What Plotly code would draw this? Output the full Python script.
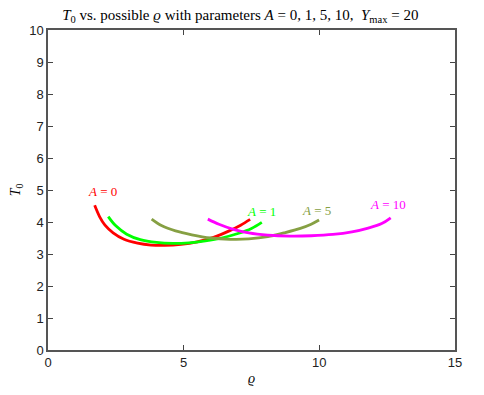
import plotly.graph_objects as go

# A = 0
rho_a0 = [1.72, 1.9, 2.1, 2.4, 2.8, 3.3, 3.8, 4.3, 4.9, 5.5, 6.1, 6.7, 7.1, 7.45]
t0_a0 = [4.52, 4.17, 3.9, 3.66, 3.46, 3.34, 3.28, 3.27, 3.3, 3.38, 3.52, 3.73, 3.9, 4.08]
# A = 1
rho_a1 = [2.22, 2.5, 2.9, 3.4, 4.0, 4.6, 5.2, 5.8, 6.4, 7.0, 7.5, 7.88]
t0_a1 = [4.17, 3.88, 3.62, 3.45, 3.36, 3.33, 3.35, 3.41, 3.5, 3.64, 3.8, 3.99]
# A = 5
rho_a5 = [3.82, 4.2, 4.7, 5.3, 6.0, 6.7, 7.4, 8.1, 8.7, 9.3, 9.7, 9.99]
t0_a5 = [4.09, 3.88, 3.72, 3.6, 3.5, 3.46, 3.47, 3.54, 3.66, 3.8, 3.93, 4.06]
# A = 10
rho_a10 = [5.89, 6.3, 6.8, 7.4, 8.1, 8.9, 9.7, 10.5, 11.2, 11.8, 12.3, 12.63]
t0_a10 = [4.09, 3.93, 3.78, 3.66, 3.59, 3.56, 3.57, 3.61, 3.69, 3.81, 3.95, 4.13]

series_names = ["A = 0", "A = 1", "A = 5", "A = 10"]
label_text = ["<i>A</i> = 0", "<i>A</i> = 1", "<i>A</i> = 5", "<i>A</i> = 10"]
label_x = [1.99, 7.85, 9.88, 12.53]
label_y = [4.95, 4.32, 4.35, 4.56]
colors = ["#ff0000", "#00ff00", "#86a043", "#ff00ff"]

xs = [rho_a0, rho_a1, rho_a5, rho_a10]
ys = [t0_a0, t0_a1, t0_a5, t0_a10]

serif = "Liberation Serif, DejaVu Serif, serif"
sans = "Liberation Sans, Arial, sans-serif"

fig = go.Figure()
for name, x, y, c in zip(series_names, xs, ys, colors):
    fig.add_trace(go.Scatter(x=x, y=y, mode="lines", name=name,
                             line=dict(color=c, width=2.8, shape="spline"),
                             showlegend=False))

for t, x, y, c in zip(label_text, label_x, label_y, colors):
    fig.add_annotation(x=x, y=y, text=t, showarrow=False,
                       font=dict(family=serif, size=13, color=c))

fig.update_layout(
    width=476, height=387,
    margin=dict(l=40, r=29, t=22, b=45, autoexpand=False),
    plot_bgcolor="white", paper_bgcolor="white",
    title=dict(text="<i>T</i><sub>0</sub> vs. possible <i>ϱ</i> with parameters <i>A</i> = 0, 1, 5, 10,  <i>Y</i><sub>max</sub> = 20",
               x=0.488, xanchor="center", y=0.982, yanchor="middle",
               font=dict(family=serif, size=15, color="black")),
    xaxis=dict(range=[0, 15], tickvals=[0, 5, 10, 15], ticks="inside", ticklen=5,
               showline=True, linecolor="#555555", linewidth=1.5, mirror="ticks",
               showgrid=False, zeroline=False, automargin=False,
               tickfont=dict(family=sans, size=13, color="#222222"),
               title=dict(text="<i>ϱ</i>", font=dict(family=serif, size=14, color="black"), standoff=4)),
    yaxis=dict(range=[0, 10], tickvals=list(range(0, 11)), ticks="inside", ticklen=5,
               showline=True, linecolor="#555555", linewidth=1.5, mirror="ticks",
               showgrid=False, zeroline=False, automargin=False,
               tickfont=dict(family=sans, size=13, color="#222222"),
               title=dict(text="<i>T</i><sub>0</sub>", font=dict(family=serif, size=14, color="black"), standoff=6)),
)

fig.write_html("out.html")
